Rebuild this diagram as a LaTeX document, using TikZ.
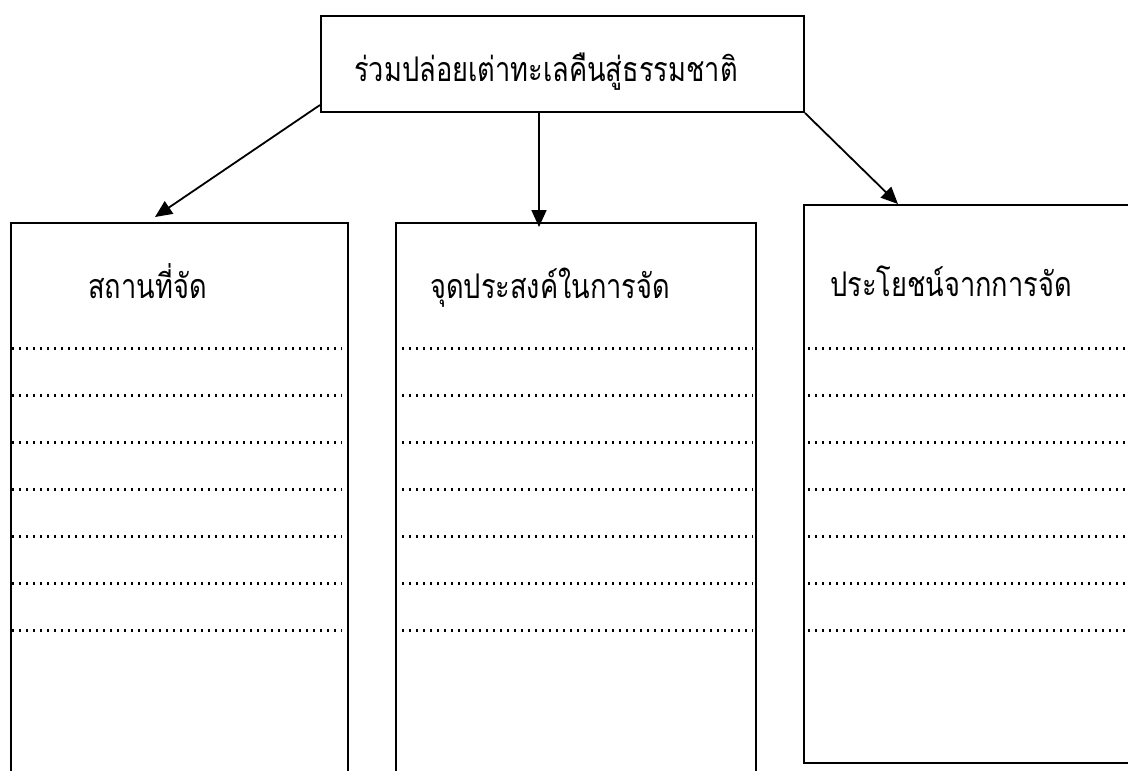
\documentclass[tikz,border=0pt]{standalone}
\usepackage{fontspec}
\newfontfamily\thai[Script=Thai,FakeStretch=0.8]{Loma}
\usetikzlibrary{arrows.meta,calc}
\begin{document}
\begin{tikzpicture}[x=1pt,y=-1pt,
 box/.style={draw,line width=2pt,anchor=north west,inner sep=0pt},
 arr/.style={line width=1.8pt,-{Triangle[length=17pt,width=15pt]}},
 dotrow/.style={line width=3pt,dash pattern=on 1.8pt off 5.2pt},
 lbl/.style={font=\thai\fontsize{34}{40}\selectfont,anchor=base west,inner sep=0pt}]
\useasboundingbox (0,0) rectangle (1128,771);
\clip (0,0) rectangle (1128,771);
\node[box,minimum width=483pt,minimum height=96pt] (top) at (320,15) {};
\node[lbl,anchor=base] (toptext) at (546,81) {ร่วมปล่อยเต่าทะเลคืนสู่ธรรมชาติ};
\node[box,minimum width=337pt,minimum height=600pt] (b1) at (10,222) {};
\node[box,minimum width=360pt,minimum height=600pt] (b2) at (395,222) {};
\node[box,minimum width=400pt,minimum height=558pt] (b3) at (803,204) {};
\node[lbl] (t1) at (88,298) {สถานที่จัด};
\node[lbl] (t2) at (430,298) {จุดประสงค์ในการจัด};
\node[lbl] (t3) at (830,296) {ประโยชน์จากการจัด};
\foreach \y in {348,395,442,489,536,583,630}{
  \draw[dotrow] (12,\y) -- (342,\y);
  \draw[dotrow] (402,\y) -- (753,\y);
  \draw[dotrow] (808,\y) -- (1128,\y);
}
\draw[arr] ($(top.south west)+(0,-8)$) -- ($(b1.north west)+(145,-5)$);
\draw[arr] ($(top.south west)+(219,0)$) -- ($(b2.north west)+(144,5)$);
\draw[arr] (top.south east) -- ($(b3.north west)+(95,0)$);
\end{tikzpicture}
\end{document}
